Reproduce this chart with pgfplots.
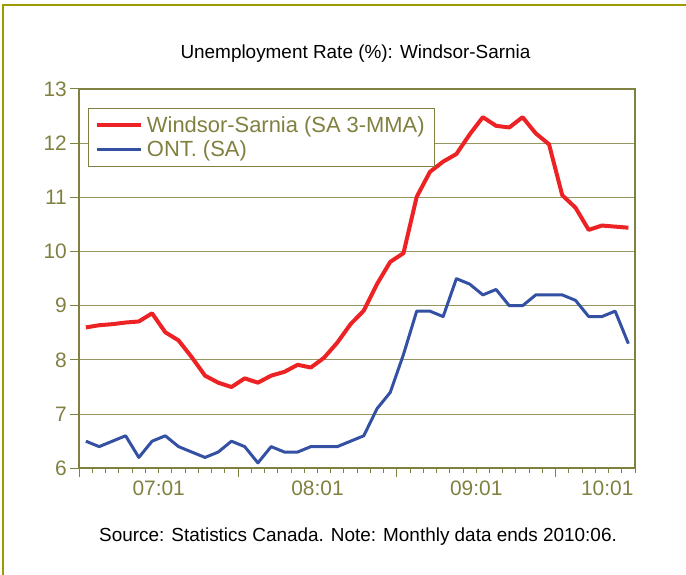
\documentclass[border=0pt]{standalone}
\usepackage{fontspec}
\setmainfont{Liberation Sans}
\usepackage{pgfplots}
\usepackage{pgfplotstable}
\pgfplotsset{compat=1.18}
\definecolor{olivec}{RGB}{128,128,64}
\definecolor{gridc}{RGB}{150,150,95}
\definecolor{framec}{RGB}{158,154,0}
\definecolor{wsred}{RGB}{237,34,36}
\definecolor{ontblue}{RGB}{52,80,163}

\pgfplotstableread{
i ws ont
0 8.60 6.5
1 8.64 6.4
2 8.66 6.5
3 8.69 6.6
4 8.71 6.2
5 8.86 6.5
6 8.51 6.6
7 8.36 6.4
8 8.05 6.3
9 7.71 6.2
10 7.58 6.3
11 7.50 6.5
12 7.66 6.4
13 7.58 6.1
14 7.71 6.4
15 7.78 6.3
16 7.91 6.3
17 7.86 6.4
18 8.04 6.4
19 8.32 6.4
20 8.66 6.5
21 8.91 6.6
22 9.40 7.1
23 9.81 7.4
24 9.97 8.1
25 11.01 8.9
26 11.47 8.9
27 11.66 8.8
28 11.80 9.5
29 12.16 9.4
30 12.48 9.2
31 12.32 9.3
32 12.29 9.0
33 12.48 9.0
34 12.18 9.2
35 11.98 9.2
36 11.04 9.2
37 10.81 9.1
38 10.40 8.8
39 10.48 8.8
40 10.46 8.9
41 10.44 8.3
}\datatable

\begin{document}
\begin{tikzpicture}[x=1bp,y=1bp]
\useasboundingbox (0,0) rectangle (686,575);
\draw[framec, line width=2.5bp] (3,-2) -- (3,570) -- (690,570);
\node[anchor=base, inner sep=0pt, font=\fontsize{19}{23}\selectfont] at (355.5,516.5) {Unemployment Rate (\%): Windsor-Sarnia};
\node[anchor=base, inner sep=0pt, font=\fontsize{19}{23}\selectfont] at (358,33) {Source: Statistics Canada. Note: Monthly data ends 2010:06.};
\begin{axis}[
  at={(79.3bp,106.7bp)}, anchor=south west,
  scale only axis, width=555.7bp, height=379.3bp,
  xmin=-0.5, xmax=41.5, ymin=6, ymax=13,
  ytick={6,...,13},
  xtick={-0.5,11.5,23.5,35.5}, xticklabels={,,,},
  minor xtick={0.5,1.5,...,41.5},
  extra x ticks={5.5,17.5,29.5,39.4},
  extra x tick labels={07:01,08:01,09:01,10:01},
  extra x tick style={tick style={draw=none}},
  xtick pos=bottom, ytick pos=left,
  tick align=outside,
  major tick length=9bp, minor tick length=4.5bp,
  tick style={olivec, line width=1bp},
  axis line style={olivec, line width=2bp},
  ymajorgrids, grid style={gridc, line width=1bp},
  /pgf/number format/assume math mode=true,
  ticklabel style={font=\fontsize{21}{25}\selectfont, text=olivec},
  legend style={at={(0.0151,0.9507)}, anchor=north west, draw=olivec, line width=1.2bp,
    fill=white, font=\fontsize{22}{26}\selectfont, text=olivec,
    inner xsep=6.3bp, inner ysep=4.2bp, row sep=0bp,
    nodes={inner sep=3.7bp}},
  legend cell align=left,
  legend image code/.code={\draw[#1] (0bp,0bp) -- (44.7bp,0bp);},
]
\addplot[wsred, line width=4bp, line join=round] table[x=i, y=ws] {\datatable};
\addlegendentry{Windsor-Sarnia (SA 3-MMA)\hspace{5bp}}
\addplot[ontblue, line width=3bp, line join=round] table[x=i, y=ont] {\datatable};
\addlegendentry{ONT. (SA)}
\end{axis}
\end{tikzpicture}
\end{document}
